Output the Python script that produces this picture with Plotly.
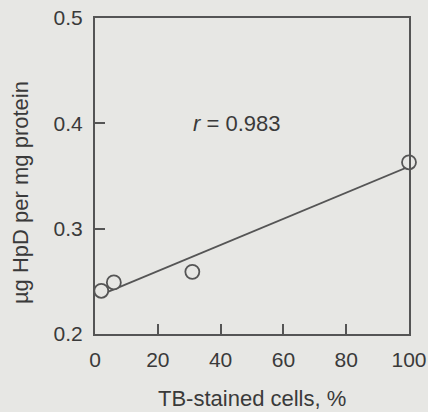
import numpy as np
import plotly.graph_objects as go

# TB-stained cells (%) vs. HpD uptake (ug per mg protein)
tb_stained_pct = [2, 6, 31, 100]
hpd_ug_per_mg = [0.241, 0.249, 0.259, 0.363]
r_label = "0.983"

x_ticks = [0, 20, 40, 60, 80, 100]
y_ticks = [0.2, 0.3, 0.4, 0.5]

PAPER = "#e7e7e4"
INK = "#3a3a3a"
LINE = "#555555"
FONT = "Liberation Sans, Arial, Helvetica, sans-serif"

# least-squares regression line across the measured range
slope, intercept = np.polyfit(tb_stained_pct, hpd_ug_per_mg, 1)
fit_x = np.array([min(tb_stained_pct), max(tb_stained_pct)])
fit_y = slope * fit_x + intercept

fig = go.Figure()
fig.add_trace(go.Scatter(
    x=fit_x, y=fit_y, mode="lines",
    line=dict(color=LINE, width=1.8),
    hoverinfo="skip", showlegend=False,
))
fig.add_trace(go.Scatter(
    x=tb_stained_pct, y=hpd_ug_per_mg, mode="markers",
    marker=dict(symbol="circle", size=14, color=PAPER,
                line=dict(color=LINE, width=1.8)),
    showlegend=False, cliponaxis=False,
))

fig.add_annotation(
    x=45, y=0.40, xref="x", yref="y", showarrow=False,
    text="<i>r</i> = " + r_label,
    font=dict(family=FONT, size=22, color=INK),
)
fig.add_annotation(
    x=0.5, y=0, xref="paper", yref="paper", yshift=-64, showarrow=False,
    text="TB-stained cells, %", yanchor="middle",
    font=dict(family=FONT, size=22, color=INK),
)
fig.add_annotation(
    x=0, y=0.446, xref="paper", yref="paper", xshift=-75, showarrow=False,
    text="µg HpD per mg protein", textangle=-90, xanchor="center", yanchor="middle",
    font=dict(family=FONT, size=22, color=INK),
)

axis_common = dict(
    showgrid=False, zeroline=False, showline=True, mirror=True,
    linecolor=LINE, linewidth=2,
    ticks="inside", ticklen=10, tickwidth=1.8, tickcolor=LINE,
    tickfont=dict(family=FONT, size=21, color=INK),
    automargin=False,
)

fig.update_xaxes(range=[0, 100], tickvals=x_ticks, ticktext=[str(v) for v in x_ticks],
                 ticklabelstandoff=6, **axis_common)
fig.update_yaxes(range=[0.2, 0.5], tickvals=y_ticks, ticktext=[f"{v:.1f}" for v in y_ticks],
                 ticklabelstandoff=6, **axis_common)

fig.update_layout(
    width=428, height=412,
    margin=dict(l=95, r=19, t=18, b=78),
    paper_bgcolor=PAPER, plot_bgcolor=PAPER,
    font=dict(family=FONT, color=INK),
)

fig.write_html("out.html")
